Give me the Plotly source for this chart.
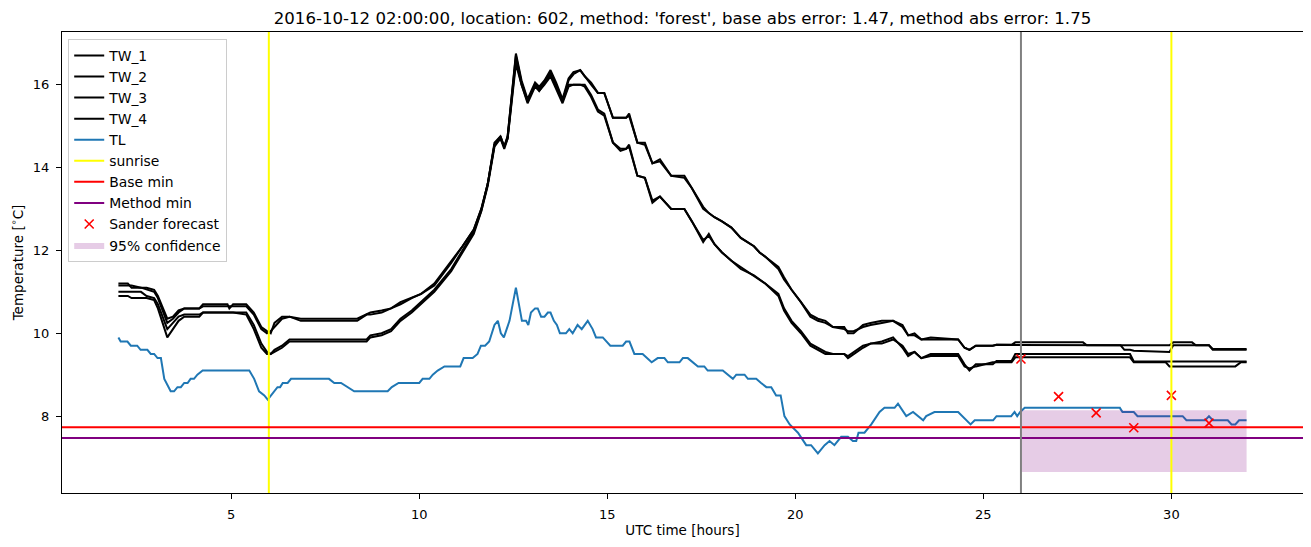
import plotly.graph_objects as go

# ---- data ----
TITLE = "2016-10-12 02:00:00, location: 602, method: 'forest', base abs error: 1.47, method abs error: 1.75"

TW_HOURS = [
    2.0, 2.25, 2.35, 2.6, 2.75, 2.95, 3.05, 3.3, 3.45, 3.6, 3.75, 4.15, 4.25, 4.9, 4.95, 5.05, 5.4, 5.6,
    5.8, 5.95, 6.05, 6.15, 6.35, 6.55, 6.85, 8.35, 8.6, 8.7, 9.0, 9.25, 9.5, 9.8, 10.05, 10.4, 10.85,
    11.15, 11.45, 11.65, 11.82, 12.0, 12.16, 12.26, 12.35, 12.57, 12.72, 12.88, 13.08, 13.19, 13.33,
    13.49, 13.64, 13.81, 13.97, 14.1, 14.28, 14.4, 14.57, 14.75, 14.92, 15.15, 15.35, 15.5, 15.58,
    15.8, 16.0, 16.2, 16.4, 16.7, 17.05, 17.25, 17.55, 17.7, 17.85, 18.05, 18.3, 18.55, 18.9, 19.05,
    19.2, 19.55, 19.7, 19.9, 20.15, 20.4, 20.6, 20.8, 21.0, 21.3, 21.4, 21.55, 21.8, 22.0, 22.3, 22.6,
    22.85, 23.0, 23.17, 23.35, 23.6, 24.33, 24.5, 24.63, 24.8, 25.25, 25.35, 25.75, 25.85, 26.0, 27.65,
    27.75, 28.65, 28.75, 28.9, 29.0, 29.85, 29.95, 30.05, 30.55, 30.65, 31.0, 31.1, 31.7, 31.85, 32.0,
]
TW_1 = [
    11.2, 11.2, 11.1, 11.1, 11.1, 11.05, 10.9, 10.35, 10.4, 10.55, 10.6, 10.6, 10.7, 10.7, 10.6, 10.7, 10.7, 10.5,
    10.15, 10.05, 10.0, 10.25, 10.4, 10.4, 10.35, 10.35, 10.45, 10.5, 10.55, 10.6, 10.75, 10.85, 10.95, 11.2, 11.75,
    12.1, 12.5, 13.0, 13.6, 14.6, 14.75, 14.5, 14.75, 16.75, 16.1, 15.65, 16.05, 15.95, 16.1,
    16.35, 16.05, 15.65, 16.15, 16.3, 16.35, 16.2, 16.05, 15.8, 15.8, 15.2, 15.2, 15.2, 15.3,
    14.6, 14.6, 14.1, 14.2, 13.8, 13.8, 13.5, 13.05, 12.9, 12.8, 12.7, 12.55, 12.3, 12.1, 11.95,
    11.85, 11.55, 11.3, 11.05, 10.75, 10.4, 10.3, 10.25, 10.15, 10.15, 10.0, 10.0, 10.2, 10.25, 10.3, 10.3,
    10.15, 9.95, 10.0, 9.85, 9.9, 9.85, 9.65, 9.6, 9.7, 9.7, 9.72, 9.72, 9.78, 9.78, 9.78,
    9.71, 9.71, 9.71, 9.71, 9.71, 9.71, 9.71, 9.78, 9.78, 9.71, 9.71, 9.62, 9.62, 9.62, 9.62,
]
TW_2 = [
    11.15, 11.15, 11.15, 11.1, 11.05, 11.0, 10.85, 10.25, 10.35, 10.5, 10.6, 10.6, 10.65, 10.65, 10.65, 10.65, 10.65, 10.45,
    10.1, 10.0, 10.05, 10.15, 10.35, 10.4, 10.3, 10.3, 10.45, 10.45, 10.5, 10.6, 10.7, 10.85, 10.95, 11.15, 11.7,
    12.1, 12.5, 13.0, 13.6, 14.55, 14.75, 14.5, 14.75, 16.7, 16.05, 15.6, 16.0, 15.9, 16.1,
    16.3, 16.0, 15.6, 16.1, 16.25, 16.35, 16.2, 16.0, 15.8, 15.8, 15.2, 15.2, 15.2, 15.25,
    14.6, 14.55, 14.1, 14.15, 13.8, 13.75, 13.5, 13.0, 12.9, 12.8, 12.7, 12.55, 12.3, 12.1, 11.95,
    11.85, 11.6, 11.35, 11.05, 10.75, 10.45, 10.35, 10.3, 10.15, 10.1, 10.05, 10.05, 10.15, 10.2, 10.25, 10.3,
    10.2, 9.95, 9.95, 9.85, 9.85, 9.85, 9.65, 9.6, 9.7, 9.7, 9.72, 9.72, 9.71, 9.71, 9.71,
    9.71, 9.71, 9.6, 9.6, 9.58, 9.55, 9.55, 9.71, 9.71, 9.71, 9.71, 9.6, 9.6, 9.6, 9.6,
]
TW_3 = [
    11.0, 11.0, 11.0, 11.0, 10.9, 10.85, 10.7, 10.1, 10.25, 10.4, 10.45, 10.45, 10.5, 10.5, 10.5, 10.5, 10.5, 10.2,
    9.75, 9.55, 9.5, 9.6, 9.7, 9.85, 9.85, 9.85, 9.85, 9.95, 10.0, 10.1, 10.35, 10.55, 10.75, 11.05, 11.55,
    12.0, 12.45, 12.95, 13.6, 14.55, 14.7, 14.5, 14.7, 16.6, 16.0, 15.6, 16.0, 15.85, 16.05,
    16.25, 15.95, 15.6, 16.0, 16.0, 16.0, 16.0, 15.75, 15.4, 15.3, 14.6, 14.4, 14.45, 14.55,
    13.8, 13.75, 13.15, 13.3, 13.0, 13.0, 12.7, 12.2, 12.4, 12.15, 11.95, 11.75, 11.6, 11.4, 11.3,
    11.2, 10.95, 10.6, 10.3, 10.05, 9.75, 9.65, 9.55, 9.5, 9.5, 9.45, 9.55, 9.7, 9.75, 9.8, 9.9,
    9.65, 9.45, 9.55, 9.4, 9.5, 9.5, 9.25, 9.1, 9.25, 9.25, 9.33, 9.33, 9.5, 9.5, 9.5,
    9.5, 9.5, 9.5, 9.5, 9.32, 9.32, 9.32, 9.32, 9.32, 9.32, 9.32, 9.32, 9.32, 9.32, 9.32,
]
TW_4 = [
    10.9, 10.9, 10.85, 10.85, 10.85, 10.8, 10.6, 9.9, 10.1, 10.3, 10.4, 10.4, 10.5, 10.5, 10.5, 10.5, 10.45, 10.1,
    9.65, 9.5, 9.5, 9.55, 9.65, 9.8, 9.8, 9.8, 9.8, 9.9, 9.95, 10.05, 10.3, 10.5, 10.7, 11.0, 11.5,
    11.95, 12.4, 12.95, 13.55, 14.5, 14.7, 14.45, 14.7, 16.5, 16.0, 15.55, 15.95, 15.85, 16.0,
    16.2, 15.9, 15.55, 15.95, 16.0, 16.0, 15.95, 15.7, 15.35, 15.25, 14.6, 14.45, 14.45, 14.5,
    13.8, 13.75, 13.2, 13.3, 13.0, 13.0, 12.7, 12.25, 12.35, 12.15, 11.95, 11.75, 11.55, 11.4, 11.3,
    11.2, 10.9, 10.55, 10.25, 10.0, 9.7, 9.6, 9.5, 9.5, 9.5, 9.4, 9.5, 9.65, 9.75, 9.75, 9.85,
    9.7, 9.5, 9.55, 9.4, 9.45, 9.45, 9.2, 9.15, 9.2, 9.3, 9.3, 9.3, 9.42, 9.42, 9.42,
    9.42, 9.42, 9.42, 9.42, 9.3, 9.3, 9.2, 9.2, 9.2, 9.2, 9.2, 9.2, 9.2, 9.3, 9.3,
]

TL_HOURS = [
    2.0, 2.06, 2.24, 2.33, 2.5, 2.59, 2.77, 2.86, 2.95, 3.04, 3.13, 3.22, 3.39, 3.48, 3.57, 3.66, 3.75,
    3.84, 3.92, 4.01, 4.1, 4.24, 5.48, 5.61, 5.74, 5.88, 5.97, 6.05, 6.14, 6.23, 6.3, 6.37, 6.5, 6.59,
    7.6, 7.74, 7.92, 8.09, 8.27, 9.16, 9.27, 9.45, 10.0, 10.09, 10.27, 10.36, 10.49, 10.67, 11.09,
    11.18, 11.42, 11.55, 11.64, 11.75, 11.86, 12.0, 12.09, 12.17, 12.25, 12.4, 12.57, 12.73, 12.84,
    12.9, 12.97, 13.08, 13.15, 13.24, 13.33, 13.42, 13.49, 13.58, 13.66, 13.74, 13.9, 13.99, 14.08,
    14.21, 14.32, 14.48, 14.61, 14.7, 14.88, 15.08, 15.41, 15.5, 15.59, 15.72, 15.94, 16.18, 16.34,
    16.52, 16.61, 16.92, 17.01, 17.14, 17.27, 17.41, 17.58, 17.67, 18.07, 18.2, 18.34, 18.43, 18.65,
    18.74, 18.96, 19.09, 19.23, 19.36, 19.49, 19.61, 19.71, 19.85, 20.07, 20.29, 20.42, 20.6, 20.78,
    20.91, 21.04, 21.22, 21.4, 21.53, 21.62, 21.68, 21.84, 22.02, 22.24, 22.37, 22.64, 22.73, 22.95,
    23.13, 23.26, 23.4, 23.48, 23.7, 24.33, 24.66, 24.77, 25.26, 25.35, 25.74, 25.83, 25.9, 25.98,
    26.1, 28.63, 28.7, 29.0, 29.1, 30.3, 30.4, 30.9, 31.0, 31.1, 31.5, 31.6, 31.7, 31.8, 32.0,
]
TL_VALUES = [
    9.9, 9.8, 9.8, 9.7, 9.7, 9.6, 9.6, 9.5, 9.5, 9.4, 9.4, 8.9, 8.6, 8.6, 8.7, 8.7, 8.8,
    8.8, 8.9, 8.9, 9.0, 9.1, 9.1, 8.9, 8.6, 8.5, 8.4, 8.5, 8.6, 8.7, 8.7, 8.8, 8.8, 8.9,
    8.9, 8.8, 8.8, 8.7, 8.6, 8.6, 8.7, 8.8, 8.8, 8.9, 8.9, 9.0, 9.1, 9.2, 9.2,
    9.4, 9.4, 9.5, 9.7, 9.7, 9.8, 10.2, 10.3, 10.0, 9.9, 10.3, 11.1, 10.3, 10.3,
    10.2, 10.5, 10.6, 10.6, 10.4, 10.4, 10.5, 10.5, 10.3, 10.2, 10.0, 10.0, 10.1, 10.0,
    10.2, 10.1, 10.3, 10.1, 9.9, 9.9, 9.7, 9.7, 9.8, 9.8, 9.5, 9.5, 9.3, 9.4,
    9.4, 9.3, 9.3, 9.4, 9.4, 9.3, 9.2, 9.2, 9.1, 9.1, 9.0, 8.9, 9.0, 9.0,
    8.9, 8.9, 8.8, 8.7, 8.7, 8.5, 8.5, 8.0, 7.8, 7.6, 7.3, 7.3, 7.1, 7.3,
    7.4, 7.3, 7.5, 7.5, 7.4, 7.4, 7.6, 7.6, 7.8, 8.1, 8.2, 8.2, 8.3, 8.0,
    8.1, 8.0, 7.9, 8.0, 8.1, 8.1, 7.8, 7.9, 7.9, 8.0, 8.0, 8.1, 8.0, 8.1,
    8.2, 8.2, 8.1, 8.1, 8.0, 8.0, 7.9, 7.9, 8.0, 7.9, 7.9, 7.8, 7.8, 7.9, 7.9,
]

SUNRISE_HOURS = [6, 30]
ISSUE_HOUR = 26
BASE_MIN = 7.73
METHOD_MIN = 7.47

FORECAST_HOURS = [26, 27, 28, 29, 30, 31]
FORECAST_VALUES = [9.38, 8.47, 8.08, 7.72, 8.50, 7.83]

CONF_HOURS = [26, 32]
CONF_LOW = [6.65, 6.65]
CONF_HIGH = [8.14, 8.14]

FONT = "DejaVu Sans, Verdana, sans-serif"
LW = 2

fig = go.Figure()

rank = 1
for name, values in [("TW_1", TW_1), ("TW_2", TW_2), ("TW_3", TW_3), ("TW_4", TW_4)]:
    fig.add_trace(go.Scatter(x=TW_HOURS, y=values, mode="lines", name=name,
                             line=dict(color="black", width=LW), legendrank=rank, legendgroup=name))
    rank += 1

fig.add_trace(go.Scatter(x=TL_HOURS, y=TL_VALUES, mode="lines", name="TL",
                         line=dict(color="#1f77b4", width=LW), legendrank=5, legendgroup="TL"))

# confidence band
fig.add_trace(go.Scatter(x=CONF_HOURS, y=CONF_LOW, mode="lines", line=dict(width=0),
                         showlegend=False, hoverinfo="skip", legendgroup="conf"))
fig.add_trace(go.Scatter(x=CONF_HOURS, y=CONF_HIGH, mode="lines", line=dict(width=0),
                         fill="tonexty", fillcolor="rgba(128,0,128,0.2)", name="95% confidence",
                         legendrank=10, legendgroup="conf"))

fig.add_trace(go.Scatter(x=FORECAST_HOURS, y=FORECAST_VALUES, mode="markers", name="Sander forecast",
                         marker=dict(symbol="x-thin", size=9, color="red", line=dict(color="red", width=1.6)),
                         legendrank=9, legendgroup="sander"))

shapes = []
for i, h in enumerate(SUNRISE_HOURS):
    shapes.append(dict(type="line", xref="x", yref="y domain", x0=h, x1=h, y0=0, y1=1,
                       line=dict(color="#ffff00", width=LW), name="sunrise", legendgroup="sunrise",
                       showlegend=(i == 0), legendrank=6, layer="above"))
shapes.append(dict(type="line", xref="x domain", yref="y", x0=0, x1=1, y0=BASE_MIN, y1=BASE_MIN,
                   line=dict(color="#ff0000", width=LW), name="Base min", legendgroup="base",
                   showlegend=True, legendrank=7, layer="above"))
shapes.append(dict(type="line", xref="x domain", yref="y", x0=0, x1=1, y0=METHOD_MIN, y1=METHOD_MIN,
                   line=dict(color="#800080", width=LW), name="Method min", legendgroup="method",
                   showlegend=True, legendrank=8, layer="above"))
shapes.append(dict(type="line", xref="x", yref="y domain", x0=ISSUE_HOUR, x1=ISSUE_HOUR, y0=0, y1=1,
                   line=dict(color="#808080", width=LW), layer="above"))

axis_common = dict(showline=True, linecolor="black", linewidth=1, mirror=True, showgrid=False,
                   zeroline=False, ticks="outside", ticklen=5, tickwidth=1, tickcolor="black",
                   ticklabelstandoff=4, automargin=False,
                   tickfont=dict(family=FONT, size=13, color="black"))

# the page body has an 8px margin, so the figure is sized/offset to compensate
fig.update_layout(
    width=1303,
    height=539,
    paper_bgcolor="white",
    plot_bgcolor="white",
    shapes=shapes,
    margin=dict(l=54, r=8, t=24, b=54),
    font=dict(family=FONT, size=13.9, color="black"),
    title=dict(text=TITLE, x=0.5, xref="paper", xanchor="center", y=0.981, yanchor="middle",
               font=dict(family=FONT, size=16.6, color="black")),
    xaxis=dict(range=[0.5, 33.5], tickvals=[5, 10, 15, 20, 25, 30],
               title=dict(text="UTC time [hours]", standoff=4, font=dict(size=13.5)), **axis_common),
    yaxis=dict(range=[6.145, 17.27], tickvals=[8, 10, 12, 14, 16],
               title=dict(text="Temperature [<sup>∘</sup>C]", standoff=10, font=dict(size=13.5)), **axis_common),
    legend=dict(x=0.005, y=0.985, xanchor="left", yanchor="top", bgcolor="rgba(255,255,255,0.8)",
                bordercolor="#cccccc", borderwidth=1, font=dict(family=FONT, size=13.9),
                tracegroupgap=0),
    showlegend=True,
)

fig.write_html("out.html")
